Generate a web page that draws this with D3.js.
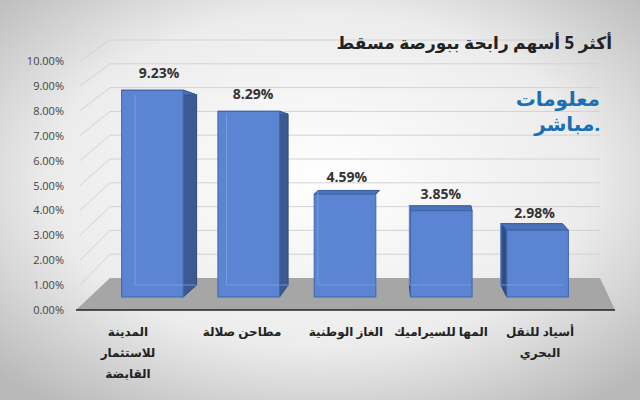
<!DOCTYPE html>
<html><head><meta charset="utf-8">
<script src="https://cdn.jsdelivr.net/npm/d3@7"></script>
<style>body{margin:0}svg{display:block}</style>
</head><body>
<script>
const categories = ["المدينة للاستثمار القابضة", "مطاحن صلالة", "الغاز الوطنية", "المها للسيراميك", "أسياد للنقل البحري"];
const values = [9.23, 8.29, 4.59, 3.85, 2.98];
const ticks = [0, 1, 2, 3, 4, 5, 6, 7, 8, 9, 10];
const labelLines = [["المدينة", "للاستثمار", "القابضة"], ["مطاحن صلالة"], ["الغاز الوطنية"], ["المها للسيراميك"], ["أسياد للنقل", "البحري"]];

const W = 640, H = 400;
const svg = d3.select("body").append("svg").attr("width", W).attr("height", H);
const defs = svg.append("defs");
const rg = defs.append("radialGradient").attr("id", "bg").attr("cx", "50%").attr("cy", "45%").attr("r", "70%");
rg.append("stop").attr("offset", "0%").attr("stop-color", "#ffffff");
rg.append("stop").attr("offset", "60%").attr("stop-color", "#ececec");
rg.append("stop").attr("offset", "100%").attr("stop-color", "#b9b9b9");
svg.append("rect").attr("width", W).attr("height", H).attr("fill", "url(#bg)");

// front (axis) scale and back-wall scale
const yF = d3.scaleLinear().domain([0, 10]).range([310, 61]);
const yB = d3.scaleLinear().domain([0, 10]).range([278, 40]);
const x = d3.scaleBand().domain(categories).range([112, 578]).paddingInner(0.36).paddingOuter(0.1);

// floor
svg.append("path").attr("d", `M76,310 L110,278 L600,278 L615,310 Z`).attr("fill", "#a6a6a6");

// gridlines
ticks.filter(t => t > 0).forEach(t => {
  svg.append("path")
    .attr("d", `M80,${yF(t)} L110,${yB(t)} L600,${yB(t)}`)
    .attr("fill", "none").attr("stroke", "#d2d2d2").attr("stroke-width", 1);
});
svg.append("line").attr("x1", 76).attr("x2", 615).attr("y1", 310).attr("y2", 310)
  .attr("stroke", "#222").attr("stroke-width", 1.5);

// y labels
svg.selectAll(".yl").data(ticks).join("text")
  .attr("x", 64).attr("y", d => yF(d) + 4).attr("text-anchor", "end")
  .attr("font-family", "Open Sans, sans-serif").attr("font-size", 11).attr("fill", "#444")
  .text(d => d.toFixed(2) + "%");

// bars
const yBarF = d3.scaleLinear().domain([0, 10]).range([297, 73]);
const yBarB = d3.scaleLinear().domain([0, 10]).range([285, 79]);
const cx = 340;
values.forEach((v, i) => {
  const x0 = x(categories[i]), w = x.bandwidth();
  const shift = (cx - (x0 + w / 2)) * 0.05;
  const f = {l: x0, r: x0 + w, t: yBarF(v), b: yBarF(0)};
  const bk = {l: x0 + shift + 4, r: x0 + w + shift + 4, t: yBarB(v) , b: yBarB(0)};
  const g = svg.append("g");
  const pts = a => a.map(p => p.join(",")).join(" ");
  if (shift > 1) {
    g.append("polygon").attr("points", pts([[f.r, f.t], [bk.r, bk.t], [bk.r, bk.b], [f.r, f.b]]))
      .attr("fill", "#3a5a91").attr("stroke", "#2f4b7d");
  } else if (shift < -1) {
    g.append("polygon").attr("points", pts([[f.l, f.t], [bk.l, bk.t], [bk.l, bk.b], [f.l, f.b]]))
      .attr("fill", "#2f4f86").attr("stroke", "#2a4677");
  }
  g.append("polygon").attr("points", pts([[f.l, f.t], [f.r, f.t], [bk.r, bk.t], [bk.l, bk.t]]))
    .attr("fill", "#4a73bd").attr("stroke", "#34589a");
  g.append("rect").attr("x", f.l).attr("y", f.t).attr("width", w).attr("height", f.b - f.t)
    .attr("fill", "#5b85d3").attr("stroke", "#3f65aa");
  g.append("path").attr("d", `M${bk.l},${bk.t} V${bk.b} H${bk.r}`)
    .attr("fill", "none").attr("stroke", "#7ea1e0").attr("stroke-width", 0.8);
  svg.append("text").attr("x", x0 + w / 2 + shift / 2 + 2).attr("y", f.t - 12)
    .attr("text-anchor", "middle").attr("font-family", "Open Sans, sans-serif")
    .attr("font-weight", "bold").attr("font-size", 14).attr("fill", "#333")
    .text(v.toFixed(2) + "%");
});

// category labels
const labX = [128, 242, 346, 441, 540];
labelLines.forEach((lines, i) => {
  const t = svg.append("text").attr("text-anchor", "middle")
    .attr("font-family", "Noto Sans, DejaVu Sans, sans-serif").attr("font-weight", "bold")
    .attr("font-size", 12).attr("fill", "#222");
  lines.forEach((s, j) => t.append("tspan").attr("x", labX[i]).attr("y", 336 + j * 21).text(s));
});

// title
svg.append("text").attr("x", 612).attr("y", 49).attr("text-anchor", "end")
  .attr("font-family", "Noto Sans, DejaVu Sans, sans-serif").attr("font-weight", "bold")
  .attr("font-size", 17).attr("fill", "#222").text("أكثر 5 أسهم رابحة ببورصة مسقط");

// logo
const logo = svg.append("text").attr("text-anchor", "end")
  .attr("font-family", "Noto Sans, DejaVu Sans, sans-serif").attr("font-weight", "bold")
  .attr("font-size", 20).attr("fill", "#1a6fb5");
logo.append("tspan").attr("x", 600).attr("y", 106).text("معلومات");
logo.append("tspan").attr("x", 600).attr("y", 131).text("مباشر.");
</script>
</body></html>
